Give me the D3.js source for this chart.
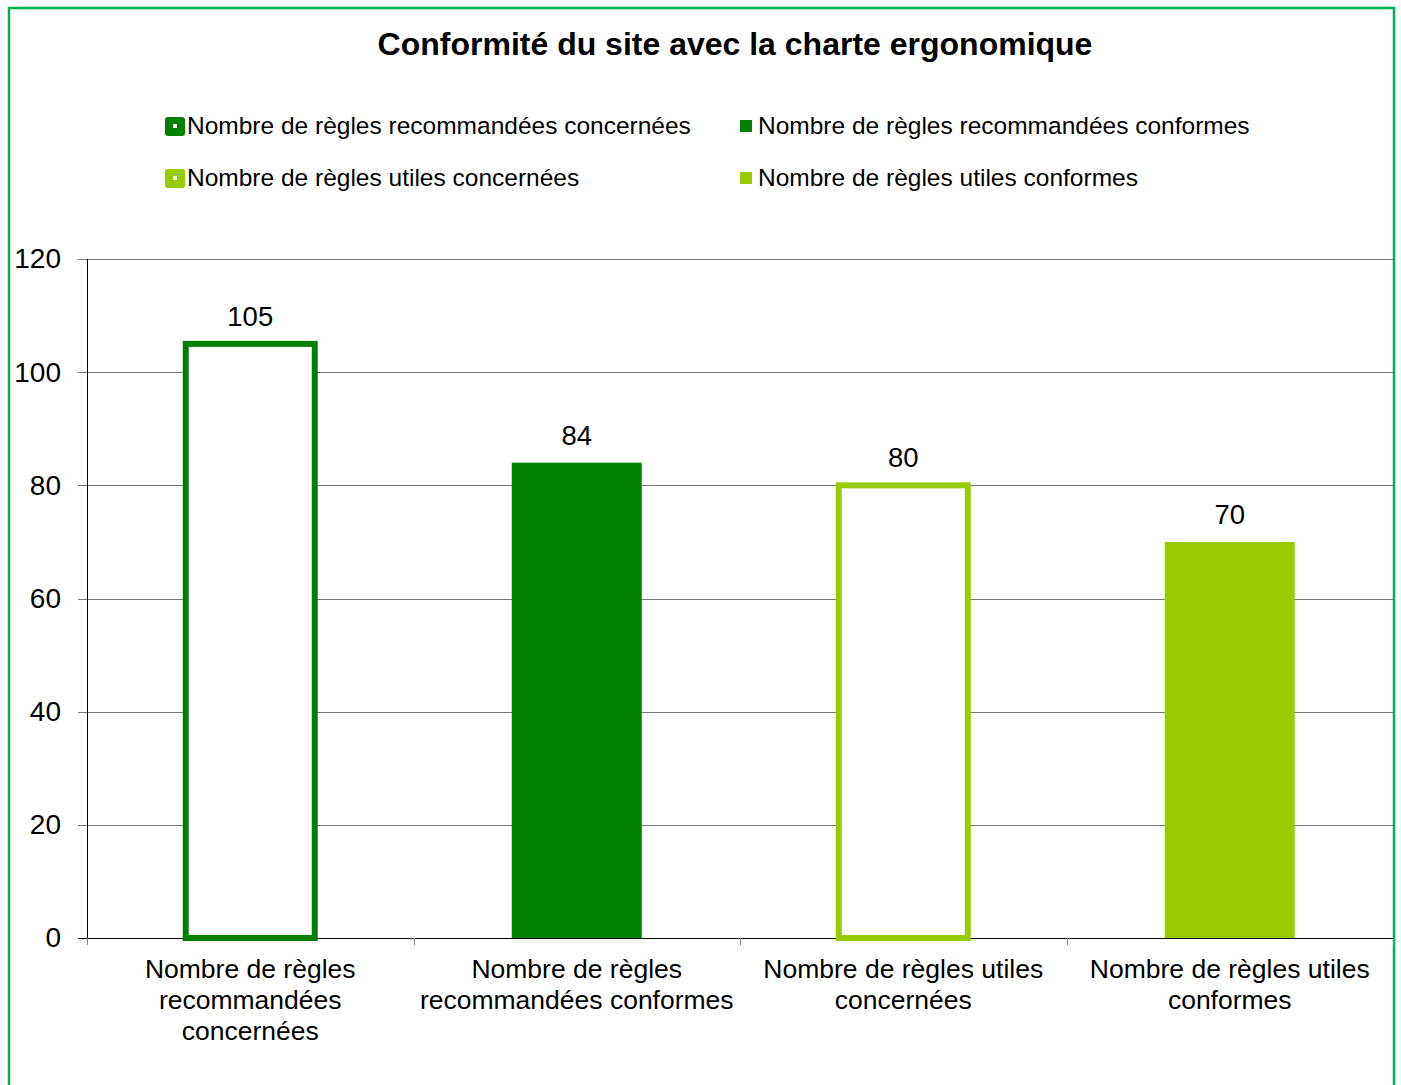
<!DOCTYPE html>
<html>
<head>
<meta charset="utf-8">
<script src="https://cdn.jsdelivr.net/npm/d3@7"></script>
<style>
  body { margin: 0; background: #fff; }
  text { font-family: "Liberation Sans", Arial, sans-serif; fill: #000; }
</style>
</head>
<body>
<div id="chart"></div>
<script>
var categories = [
  ["Nombre de règles", "recommandées", "concernées"],
  ["Nombre de règles", "recommandées conformes"],
  ["Nombre de règles utiles", "concernées"],
  ["Nombre de règles utiles", "conformes"]
];
var seriesNames = [
  "Nombre de règles recommandées concernées",
  "Nombre de règles recommandées conformes",
  "Nombre de règles utiles concernées",
  "Nombre de règles utiles conformes"
];
var values = [105, 84, 80, 70];
var colors = ["#008000", "#008000", "#99CC00", "#99CC00"];
var hollow = [true, false, true, false];
var yTicks = [0, 20, 40, 60, 80, 100, 120];

var width = 1401, height = 1085;
var margin = { left: 87, right: 8, top: 259, bottom: 147 };

var svg = d3.select("#chart").append("svg")
  .attr("width", width)
  .attr("height", height);

// cadre vert
svg.append("rect")
  .attr("x", 9).attr("y", 8)
  .attr("width", 1385).attr("height", 1090)
  .attr("fill", "#fff")
  .attr("stroke", "#00B050")
  .attr("stroke-width", 2.5);

svg.append("text")
  .attr("x", 735).attr("y", 55)
  .attr("text-anchor", "middle")
  .style("font-size", "32px")
  .style("font-weight", "bold")
  .text("Conformité du site avec la charte ergonomique");

var x = d3.scaleBand()
  .domain(d3.range(values.length))
  .range([margin.left, width - margin.right])
  .paddingInner(0.6).paddingOuter(0.3);

var y = d3.scaleLinear()
  .domain([0, 120])
  .range([height - margin.bottom, margin.top]);

// grille
svg.append("g")
  .selectAll("line")
  .data(yTicks)
  .enter().append("line")
  .attr("x1", margin.left - 9)
  .attr("x2", width - margin.right)
  .attr("y1", function(d) { return Math.round(y(d)) + 0.5; })
  .attr("y2", function(d) { return Math.round(y(d)) + 0.5; })
  .attr("stroke", function(d) { return d == 0 ? "#000" : "#777"; })
  .attr("stroke-width", 1);

svg.append("line")
  .attr("x1", margin.left + 0.5).attr("x2", margin.left + 0.5)
  .attr("y1", y(120)).attr("y2", y(0))
  .attr("stroke", "#000");

var yAxis = svg.append("g")
  .attr("transform", "translate(" + (margin.left - 26) + ",0)")
  .call(d3.axisLeft(y).tickValues(yTicks).tickSize(0).tickPadding(0));
yAxis.select(".domain").remove();
yAxis.selectAll("text")
  .style("font-size", "28px")
  .attr("font-family", null);

// graduations de l'axe x
var bandStep = (width - margin.right - margin.left) / values.length;
svg.append("g")
  .selectAll("line")
  .data(d3.range(values.length + 1))
  .enter().append("line")
  .attr("x1", function(i) { return Math.round(margin.left + i * bandStep) + 0.5; })
  .attr("x2", function(i) { return Math.round(margin.left + i * bandStep) + 0.5; })
  .attr("y1", y(0)).attr("y2", y(0) + 7)
  .attr("stroke", "#888");

// barres
var bw = 130;
svg.append("g")
  .selectAll("rect")
  .data(values)
  .enter().append("rect")
  .attr("x", function(d, i) { return x(i) + x.bandwidth() / 2 - (hollow[i] ? 64.5 : bw / 2); })
  .attr("y", function(d) { return y(d); })
  .attr("width", function(d, i) { return hollow[i] ? 129 : bw; })
  .attr("height", function(d) { return y(0) - y(d); })
  .attr("fill", function(d, i) { return hollow[i] ? "#fff" : colors[i]; })
  .attr("stroke", function(d, i) { return hollow[i] ? colors[i] : "none"; })
  .attr("stroke-width", 6);

svg.append("g")
  .selectAll("text")
  .data(values)
  .enter().append("text")
  .attr("x", function(d, i) { return x(i) + x.bandwidth() / 2; })
  .attr("y", function(d) { return y(d) - 18; })
  .attr("text-anchor", "middle")
  .style("font-size", "27.5px")
  .text(function(d) { return d; });

// libellés des catégories
var cat = svg.append("g")
  .selectAll("text")
  .data(categories)
  .enter().append("text")
  .attr("x", function(d, i) { return x(i) + x.bandwidth() / 2; })
  .attr("y", y(0) + 40)
  .attr("text-anchor", "middle")
  .style("font-size", "26.5px");
cat.selectAll("tspan")
  .data(function(d) { return d; })
  .enter().append("tspan")
  .attr("x", function() { return this.parentNode.getAttribute("x"); })
  .attr("dy", function(d, j) { return j == 0 ? 0 : 31; })
  .text(function(d) { return d; });

// légende
var legX = [165, 740], legY = [126, 178];
var leg = svg.append("g")
  .selectAll("g")
  .data(seriesNames)
  .enter().append("g")
  .attr("transform", function(d, i) {
    return "translate(" + legX[i % 2] + "," + legY[Math.floor(i / 2)] + ")";
  });

leg.each(function(d, i) {
  var g = d3.select(this);
  if (hollow[i]) {
    g.append("rect")
      .attr("x", 0).attr("y", -9).attr("width", 20).attr("height", 19)
      .attr("rx", 3).attr("fill", colors[i]);
    g.append("rect")
      .attr("x", 8).attr("y", -2).attr("width", 4).attr("height", 4)
      .attr("fill", "#fff");
  } else {
    g.append("rect")
      .attr("x", 0).attr("y", -6).attr("width", 12).attr("height", 12)
      .attr("fill", colors[i]);
  }
  g.append("text")
    .attr("x", hollow[i] ? 22 : 18)
    .attr("y", 8)
    .style("font-size", "24.5px")
    .text(d);
});
</script>
</body>
</html>
